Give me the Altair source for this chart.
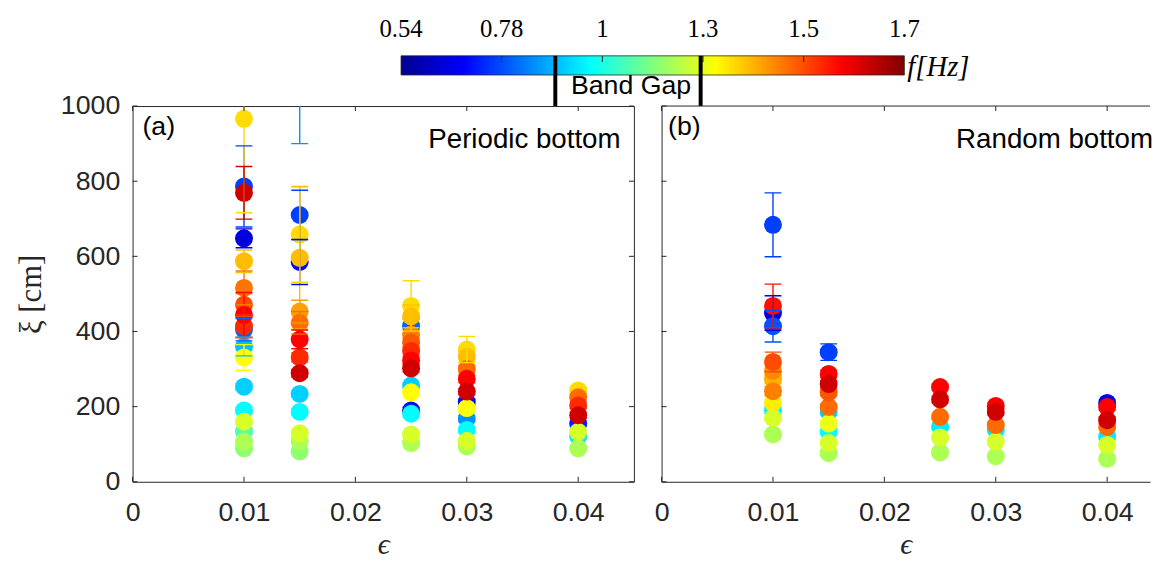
import altair as alt
import pandas as pd

# ---------------- data ----------------
# (a) periodic bottom
A_EPS = ([0.01] * 18 + [0.015] * 15 + [0.025] * 14 + [0.03] * 11 + [0.04] * 8)
A_XI = [648, 786, 405, 360, 253, 190, 134, 107, 89, 160, 331, 966, 587, 516, 471, 414, 444, 769,
        1120, 710, 585, 234, 186, 108, 81, 129, 658, 596, 453, 423, 331, 379, 289,
        190, 414, 256, 181, 103, 126, 238, 468, 440, 392, 371, 348, 323, 302,
        212, 168, 138, 94, 109, 196, 352, 333, 300, 274, 240,
        155, 121, 89, 133, 243, 225, 203, 177]
A_ERR = [25, 108, 30, 25, 8, 8, 6, 6, 6, 6, 34, 250, 30, 45, 30, 30, 60, 70,
         220, 66, 60, 8, 8, 6, 6, 6, 127, 190, 30, 30, 12, 25, 10,
         8, 20, 8, 8, 6, 6, 8, 67, 30, 12, 12, 10, 10, 10,
         8, 8, 6, 6, 6, 8, 35, 15, 10, 10, 8,
         6, 6, 5, 5, 8, 8, 8, 8]
A_FREQ = [0.65, 0.76, 0.80, 0.90, 0.92, 0.97, 1.08, 1.21, 1.17, 1.27, 1.325, 1.36, 1.39, 1.46, 1.50, 1.535, 1.575, 1.62,
          0.85, 0.76, 0.70, 0.92, 0.97, 1.21, 1.17, 1.27, 1.36, 1.39, 1.42, 1.47, 1.535, 1.575, 1.62,
          0.70, 0.80, 0.92, 0.97, 1.21, 1.27, 1.325, 1.36, 1.39, 1.45, 1.49, 1.535, 1.575, 1.62,
          0.70, 0.85, 0.97, 1.21, 1.27, 1.325, 1.36, 1.39, 1.47, 1.575, 1.62,
          0.72, 0.95, 1.21, 1.27, 1.36, 1.47, 1.535, 1.62]

# (b) random bottom
B_EPS = ([0.01] * 12 + [0.015] * 10 + [0.025] * 6 + [0.03] * 6 + [0.04] * 7)
B_XI = [449, 684, 414, 190, 126, 170, 210, 273, 295, 241, 319, 468,
        345, 186, 133, 76, 103, 155, 199, 238, 287, 260,
        146, 78, 118, 173, 252, 219,
        138, 68, 107, 151, 202, 186,
        210, 120, 61, 98, 146, 199, 164]
B_ERR = [46, 85, 42, 8, 6, 6, 8, 12, 12, 12, 26, 58,
         22, 8, 6, 5, 5, 6, 8, 10, 10, 10,
         6, 5, 5, 6, 8, 8,
         6, 5, 5, 6, 8, 8,
         8, 6, 5, 5, 6, 8, 8]
B_FREQ = [0.65, 0.76, 0.78, 0.95, 1.21, 1.27, 1.34, 1.40, 1.44, 1.45, 1.50, 1.56,
          0.76, 0.92, 0.97, 1.21, 1.27, 1.30, 1.47, 1.49, 1.575, 1.62,
          0.95, 1.21, 1.27, 1.47, 1.575, 1.62,
          0.95, 1.21, 1.27, 1.47, 1.575, 1.62,
          0.66, 0.95, 1.21, 1.27, 1.47, 1.575, 1.62]

X_TICKS = [0, 0.01, 0.02, 0.03, 0.04]
Y_TICKS = [0, 200, 400, 600, 800, 1000]

# colour bar (positions along the bar 0..1, labelled in Hz)
CB_POS = [0, 0.2, 0.4, 0.6, 0.8, 1.0]
CB_LABELS = ["0.54", "0.78", "1", "1.3", "1.5", "1.7"]
CB_INNER_TICKS = [0.2, 0.4, 0.6, 0.8]
BAND_GAP_EDGES = [0.3065, 0.5953]

# jet colormap, anchored in Hz
F_STOPS = [0.54, 0.69, 0.9725, 1.325, 1.575, 1.7]
JET = ["#00008F", "#0000FF", "#00FFFF", "#FFFF00", "#FF0000", "#800000"]
JET_OFFSETS = [0, 0.125, 0.375, 0.625, 0.875, 1]

AX = "#262626"
SANS = "Liberation Sans"
SERIF = "Liberation Serif"
W_A, W_B, H = 507, 494, 380
XMAX_A, XMAX_B = 0.045, 0.04385
BIG_ERR = 25  # error bars larger than the marker radius are drawn over the markers

color_scale = alt.Scale(domain=F_STOPS, range=JET, interpolate="rgb")
y_scale = alt.Scale(domain=[0, 1000], nice=False, zero=False)


def frame(eps, xi, err, f):
    df = pd.DataFrame({"eps": eps, "xi": xi, "err": err, "f": f})
    df["lo"] = df["xi"] - df["err"]
    df["hi"] = df["xi"] + df["err"]
    return df.sort_values("f", kind="stable").reset_index(drop=True)


def errorbars(base):
    col = alt.Color("f:Q", scale=color_scale, legend=None)
    return [
        base.mark_rule(strokeWidth=1.4, clip=True).encode(x="eps:Q", y="lo:Q", y2="hi:Q", color=col),
        base.mark_tick(orient="horizontal", size=17, thickness=1.4, opacity=1, clip=True).encode(
            x="eps:Q", y="lo:Q", color=col),
        base.mark_tick(orient="horizontal", size=17, thickness=1.4, opacity=1, clip=True).encode(
            x="eps:Q", y="hi:Q", color=col),
    ]


def panel(df, width, xmax, tag, label, full_box, tag_px, label_px):
    xs = alt.Scale(domain=[0, xmax], nice=False, zero=False)
    xaxis = alt.Axis(values=X_TICKS, labelExpr="datum.value == 0 ? '0' : format(datum.value, '.2f')",
                     ticks=False, grid=False, domain=not full_box, domainColor=AX, domainWidth=1,
                     labelFont=SANS, labelFontSize=27, labelColor=AX, labelPadding=18, labelFlush=False,
                     title="ϵ", titleFont=SERIF, titleFontSize=30, titleFontStyle="italic",
                     titleFontWeight="normal", titleColor=AX, titlePadding=5)
    if full_box:
        yaxis = alt.Axis(values=Y_TICKS, format="d", ticks=False, grid=False, domain=False,
                         labelFont=SANS, labelFontSize=27, labelColor=AX, labelPadding=13,
                         title="ξ [cm]", titleFont=SERIF, titleFontSize=31, titleFontWeight="normal",
                         titleColor=AX, titlePadding=13)
    else:
        yaxis = alt.Axis(values=Y_TICKS, labels=False, ticks=False, grid=False, domain=True,
                         domainColor=AX, domainWidth=1, title="")

    base = alt.Chart(df)
    small = base.transform_filter(f"datum.err < {BIG_ERR}")
    big = base.transform_filter(f"datum.err >= {BIG_ERR}")
    pts = base.mark_circle(size=330, opacity=1, clip=True).encode(
        x=alt.X("eps:Q", scale=xs, axis=xaxis),
        y=alt.Y("xi:Q", scale=y_scale, axis=yaxis),
        color=alt.Color("f:Q", scale=color_scale, legend=None),
        order=alt.Order("f:Q"),
    )

    xt = alt.Chart(pd.DataFrame({"v": X_TICKS}))
    yt = alt.Chart(pd.DataFrame({"v": Y_TICKS}))
    tlx = xmax * 5.0 / width
    tly = 1000 * 5.0 / H
    ticks = [
        xt.mark_rule(color=AX, strokeWidth=1).encode(x="v:Q", y=alt.datum(0), y2=alt.datum(tly)),
        xt.mark_rule(color=AX, strokeWidth=1).encode(x="v:Q", y=alt.datum(1000), y2=alt.datum(1000 - tly)),
        yt.mark_rule(color=AX, strokeWidth=1).encode(y="v:Q", x=alt.datum(0), x2=alt.datum(tlx)),
    ]
    if full_box:
        ticks.append(yt.mark_rule(color=AX, strokeWidth=1).encode(
            y="v:Q", x=alt.datum(xmax), x2=alt.datum(xmax - tlx)))
    else:
        ticks.append(alt.Chart(pd.DataFrame({"a": [0]})).mark_rule(color=AX, strokeWidth=1).encode(
            x=alt.datum(0), x2=alt.datum(xmax), y=alt.datum(1000)))

    one = alt.Chart(pd.DataFrame({"a": [0]}))
    tag_txt = one.mark_text(text=tag, font=SANS, fontSize=27, color="black", align="left",
                            baseline="alphabetic").encode(x=alt.datum(xmax * tag_px / width), y=alt.datum(922))
    lab_txt = one.mark_text(text=label, font=SANS, fontSize=28, color="black", align="right",
                            baseline="alphabetic").encode(x=alt.datum(xmax * label_px / width), y=alt.datum(887))

    return alt.layer(*errorbars(small), pts, *errorbars(big), *ticks, tag_txt, lab_txt)


def colorbar(width):
    # bar spans page pixels 403..912 while panel (a) spans 131.5..638.5
    t0 = -(403 - 131.5) / 509.0
    t1 = t0 + width / 509.0
    xt = alt.Scale(domain=[t0, t1], nice=False, zero=False)
    one = alt.Chart(pd.DataFrame({"a": [0]}))
    grad = alt.Gradient(gradient="linear", x1=0, x2=1, y1=0, y2=0,
                        stops=[alt.GradientStop(color=c, offset=o) for c, o in zip(JET, JET_OFFSETS)])
    bar = one.mark_rect(fill=grad, stroke=AX, strokeWidth=0.8).encode(
        x=alt.X(datum=0, scale=xt, axis=None), x2=alt.datum(1),
        y=alt.datum(1082.6), y2=alt.datum(1133.6))
    inner = alt.Chart(pd.DataFrame({"t": CB_INNER_TICKS})).mark_rule(color=AX, strokeWidth=1).encode(
        x=alt.X("t:Q", scale=xt, axis=None), y=alt.datum(1133.6), y2=alt.datum(1117))
    labs = alt.Chart(pd.DataFrame({"t": CB_POS, "lab": CB_LABELS})).mark_text(
        font=SERIF, fontSize=25, color="black", baseline="alphabetic", align="center").encode(
        x=alt.X("t:Q", scale=xt, axis=None), y=alt.datum(1183), text="lab:N")
    gap = alt.Chart(pd.DataFrame({"t": BAND_GAP_EDGES})).mark_rule(color="black", strokeWidth=4).encode(
        x=alt.X("t:Q", scale=xt, axis=None), y=alt.datum(1000), y2=alt.datum(1133.6))
    gap_txt = one.mark_text(text="Band Gap", font=SANS, fontSize=27, color="black", align="center",
                            baseline="alphabetic").encode(
        x=alt.X(datum=(BAND_GAP_EDGES[0] + BAND_GAP_EDGES[1]) / 2 + 0.006, scale=xt, axis=None),
        y=alt.datum(1032))
    funit = one.mark_text(text="f[Hz]", font=SERIF, fontSize=29, fontStyle="italic", color="black",
                          align="left", baseline="alphabetic").encode(
        x=alt.X(datum=1.006, scale=xt, axis=None), y=alt.datum(1080))
    return alt.layer(bar, inner, labs, gap, gap_txt, funit)


dfa = frame(A_EPS, A_XI, A_ERR, A_FREQ)
dfb = frame(B_EPS, B_XI, B_ERR, B_FREQ)

panel_a = alt.layer(panel(dfa, W_A, XMAX_A, "(a)", "Periodic bottom", True, 10, W_A - 13.5),
                    colorbar(W_A)).resolve_scale(x="independent").properties(
    width=W_A, height=H, view=alt.ViewBackground(stroke=AX, strokeWidth=1))
panel_b = panel(dfb, W_B, XMAX_B, "(b)", "Random bottom", False, 6.5, W_B + 3).properties(
    width=W_B, height=H, view=alt.ViewBackground(stroke="transparent"))

chart = alt.hconcat(panel_a, panel_b, spacing=28, bounds="flush").properties(
    padding={"left": 7, "top": 5, "right": 0, "bottom": 0}, background="white"
).configure_axis(grid=False)

chart.save("out.html", embed_options={"renderer": "svg", "actions": False})
